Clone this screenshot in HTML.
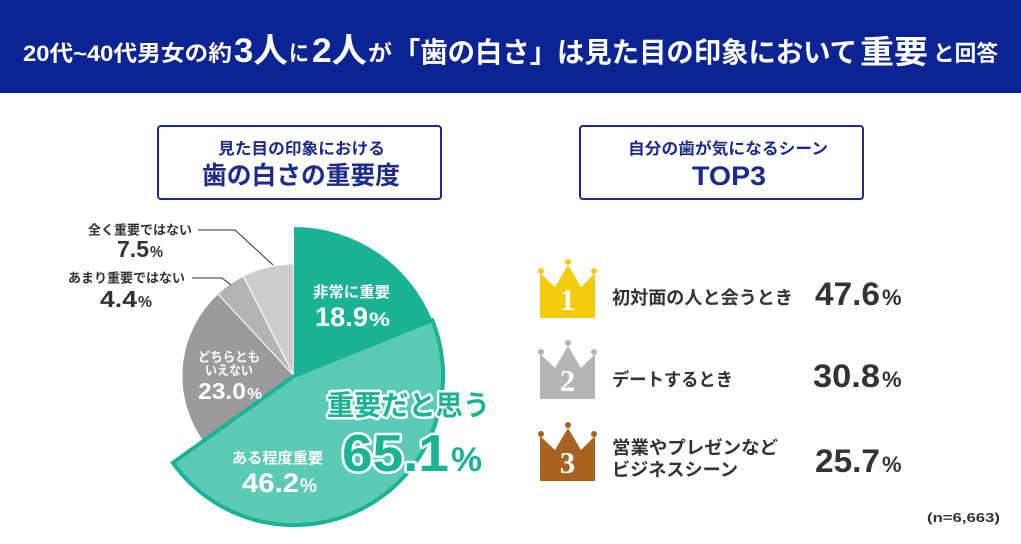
<!DOCTYPE html>
<html><head><meta charset="utf-8">
<style>
html,body{margin:0;padding:0;background:#fff;}
body{width:1021px;height:544px;overflow:hidden;}
svg{display:block;}
.jp{font-family:"Liberation Sans","Noto Sans CJK JP",sans-serif;font-weight:700;}
.num{font-family:"Liberation Sans","Noto Sans CJK JP",sans-serif;font-weight:700;}
</style></head>
<body>
<svg width="1021" height="544" viewBox="0 0 1021 544" xmlns="http://www.w3.org/2000/svg">
<rect x="0" y="0" width="1021" height="544" fill="#ffffff"/>
<!-- header -->
<rect x="0" y="0" width="1021" height="93" fill="#0c2393"/>
<g class="jp" fill="#ffffff">
<text x="23" y="61" font-size="22" textLength="209" lengthAdjust="spacingAndGlyphs">20代~40代男女の約</text>
<text x="234" y="62" font-size="34" textLength="54" lengthAdjust="spacingAndGlyphs">3人</text>
<text x="289" y="61" font-size="22" textLength="20" lengthAdjust="spacingAndGlyphs">に</text>
<text x="312" y="62" font-size="34" textLength="55" lengthAdjust="spacingAndGlyphs">2人</text>
<text x="368" y="61" font-size="22" textLength="24" lengthAdjust="spacingAndGlyphs">が</text>
<text x="393" y="62" font-size="28" textLength="464" lengthAdjust="spacingAndGlyphs">「歯の白さ」は見た目の印象において</text>
<text x="860" y="63" font-size="32" textLength="68" lengthAdjust="spacingAndGlyphs">重要</text>
<text x="933" y="61" font-size="22" textLength="65" lengthAdjust="spacingAndGlyphs">と回答</text>
</g>

<!-- boxes -->
<rect x="158" y="126" width="283" height="73" rx="3" ry="3" fill="#fff" stroke="#1b2a8c" stroke-width="2"/>
<rect x="580" y="126" width="283" height="73" rx="3" ry="3" fill="#fff" stroke="#1b2a8c" stroke-width="2"/>
<g class="jp" fill="#1b2a8c">
<text x="218" y="154" font-size="16" textLength="167" lengthAdjust="spacingAndGlyphs">見た目の印象における</text>
<text x="202" y="184" font-size="25" textLength="198" lengthAdjust="spacingAndGlyphs">歯の白さの重要度</text>
<text x="628" y="154" font-size="16" textLength="200" lengthAdjust="spacingAndGlyphs">自分の歯が気になるシーン</text>
<text x="692" y="185" font-size="27" textLength="74" lengthAdjust="spacingAndGlyphs">TOP3</text>
</g>

<!-- pie -->
<g stroke="#ffffff" stroke-width="1">
<path d="M294,376 L243.2,276.2 A112,112 0 0 1 294,264 Z" fill="#cdcdcd"/>
<path d="M294,376 L217.8,293.9 A112,112 0 0 1 243.2,276.2 Z" fill="#b4b4b4"/>
<path d="M294,376 L203.0,441.3 A112,112 0 0 1 217.8,293.9 Z" fill="#9b9b9b"/>
</g>
<path d="M294,376 L432.2,320.2 A149,149 0 0 1 172.9,462.8 Z" fill="#5ccbb6" stroke="#1ab394" stroke-width="4" stroke-linejoin="miter"/>
<path d="M294,376 L294,227 A149,149 0 0 1 432.2,320.2 Z" fill="#1ab394"/>

<!-- leader lines -->
<polyline points="198,230 235,230 273,265" fill="none" stroke="#333" stroke-width="1"/>
<polyline points="192,278 222,278 231,285" fill="none" stroke="#333" stroke-width="1"/>

<!-- outside labels -->
<g class="jp" fill="#333333">
<text x="88" y="234.5" font-size="13" textLength="104" lengthAdjust="spacingAndGlyphs">全く重要ではない</text>
<text x="68" y="282.5" font-size="13" textLength="117" lengthAdjust="spacingAndGlyphs">あまり重要ではない</text>
</g>
<g class="num" fill="#333333">
<text x="117" y="257" font-size="23" textLength="32" lengthAdjust="spacingAndGlyphs">7.5</text>
<text x="150" y="257" font-size="16" textLength="13" lengthAdjust="spacingAndGlyphs">%</text>
<text x="100" y="307" font-size="23" textLength="37" lengthAdjust="spacingAndGlyphs">4.4</text>
<text x="138" y="307" font-size="16" textLength="14" lengthAdjust="spacingAndGlyphs">%</text>
</g>

<!-- inside labels -->
<g class="jp" fill="#ffffff">
<text x="313" y="297" font-size="15" textLength="77" lengthAdjust="spacingAndGlyphs">非常に重要</text>
<text x="198" y="361.5" font-size="13" textLength="62" lengthAdjust="spacingAndGlyphs">どちらとも</text>
<text x="205" y="375" font-size="13" textLength="48" lengthAdjust="spacingAndGlyphs">いえない</text>
<text x="232" y="463" font-size="15" textLength="91" lengthAdjust="spacingAndGlyphs">ある程度重要</text>
</g>
<g class="num" fill="#ffffff">
<text x="315" y="326" font-size="27" textLength="53" lengthAdjust="spacingAndGlyphs">18.9</text>
<text x="369" y="326" font-size="19" textLength="21" lengthAdjust="spacingAndGlyphs">%</text>
<text x="198" y="399" font-size="23" textLength="48" lengthAdjust="spacingAndGlyphs">23.0</text>
<text x="247" y="399" font-size="16" textLength="15" lengthAdjust="spacingAndGlyphs">%</text>
<text x="242" y="492" font-size="27" textLength="57" lengthAdjust="spacingAndGlyphs">46.2</text>
<text x="300" y="492" font-size="19" textLength="17" lengthAdjust="spacingAndGlyphs">%</text>
</g>

<!-- big highlight -->
<g fill="#1ab394" stroke="#ffffff" stroke-width="5" stroke-linejoin="round" style="paint-order:stroke fill">
<text class="jp" x="327" y="415" font-size="28" textLength="163" lengthAdjust="spacingAndGlyphs">重要だと思う</text>
<text class="num" x="342" y="471" font-size="52" textLength="107" lengthAdjust="spacingAndGlyphs">65.1</text>
<text class="num" x="451" y="471" font-size="34" textLength="31" lengthAdjust="spacingAndGlyphs">%</text>
</g>

<!-- crowns -->
<g>
<polygon points="540,273 555,287 568,265 581,287 595,273 595,318 540,318" fill="#f5cb10"/>
<circle cx="541" cy="271" r="3" fill="#f5cb10"/><circle cx="568" cy="262" r="3" fill="#f5cb10"/><circle cx="594" cy="271" r="3" fill="#f5cb10"/>
<text x="567.5" y="310" font-size="31" font-family="Liberation Serif, serif" font-weight="700" fill="#fff" text-anchor="middle">1</text>
</g>
<g transform="translate(0,81)">
<polygon points="540,273 555,287 568,265 581,287 595,273 595,318 540,318" fill="#b5b5b5"/>
<circle cx="541" cy="271" r="3" fill="#b5b5b5"/><circle cx="568" cy="262" r="3" fill="#b5b5b5"/><circle cx="594" cy="271" r="3" fill="#b5b5b5"/>
<text x="567.5" y="310" font-size="31" font-family="Liberation Serif, serif" font-weight="700" fill="#fff" text-anchor="middle">2</text>
</g>
<g transform="translate(0,163)">
<polygon points="540,273 555,287 568,265 581,287 595,273 595,318 540,318" fill="#a9621f"/>
<circle cx="541" cy="271" r="3" fill="#a9621f"/><circle cx="568" cy="262" r="3" fill="#a9621f"/><circle cx="594" cy="271" r="3" fill="#a9621f"/>
<text x="567.5" y="310" font-size="31" font-family="Liberation Serif, serif" font-weight="700" fill="#fff" text-anchor="middle">3</text>
</g>

<!-- ranking text -->
<g class="jp" fill="#333333">
<text x="612" y="304" font-size="18" textLength="181" lengthAdjust="spacingAndGlyphs">初対面の人と会うとき</text>
<text x="612" y="386" font-size="18" textLength="121" lengthAdjust="spacingAndGlyphs">デートするとき</text>
<text x="612" y="454" font-size="18" textLength="166" lengthAdjust="spacingAndGlyphs">営業やプレゼンなど</text>
<text x="612" y="476" font-size="18" textLength="126" lengthAdjust="spacingAndGlyphs">ビジネスシーン</text>
</g>
<g class="num" fill="#333333">
<text x="815" y="305" font-size="32" textLength="65" lengthAdjust="spacingAndGlyphs">47.6</text>
<text x="882" y="305" font-size="22">%</text>
<text x="813" y="387" font-size="32" textLength="67" lengthAdjust="spacingAndGlyphs">30.8</text>
<text x="882" y="387" font-size="22">%</text>
<text x="815" y="472" font-size="32" textLength="65" lengthAdjust="spacingAndGlyphs">25.7</text>
<text x="882" y="472" font-size="22">%</text>
</g>

<text class="num" x="927" y="522" font-size="13" fill="#333" textLength="73" lengthAdjust="spacingAndGlyphs">(n=6,663)</text>
</svg>
</body></html>
